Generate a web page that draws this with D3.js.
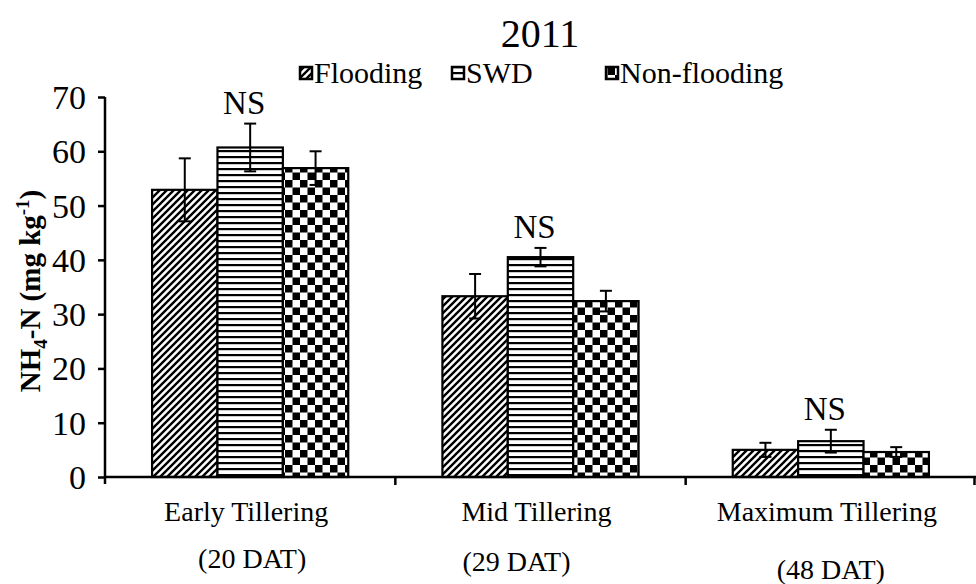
<!DOCTYPE html>
<html>
<head>
<meta charset="utf-8">
<script src="https://cdn.jsdelivr.net/npm/d3@7"></script>
<style>
  html, body { margin: 0; padding: 0; background: #fff; }
  svg text { font-family: "Liberation Serif", "Times New Roman", serif; fill: #000; }
</style>
</head>
<body>
<svg id="chart" width="976" height="584"></svg>
<script>
// NH4-N in soil at three tillering stages, 2011
const categories = ["Early Tillering", "Mid Tillering", "Maximum Tillering"];
const categoryDays = ["(20 DAT)", "(29 DAT)", "(48 DAT)"];
const seriesNames = ["Flooding", "SWD", "Non-flooding"];
const flooding = [52.9, 33.3, 5.0];
const swd = [60.7, 40.5, 6.6];
const nonFlooding = [56.9, 32.4, 4.6];
const floodingErr = [5.8, 4.1, 1.3];
const swdErr = [4.4, 1.7, 2.1];
const nonFloodingErr = [3.1, 1.9, 0.9];
const significance = ["NS", "NS", "NS"];
const yTicks = [0, 10, 20, 30, 40, 50, 60, 70];
const title = "2011";

const values = [flooding, swd, nonFlooding];
const errors = [floodingErr, swdErr, nonFloodingErr];
const patternIds = ["pat-diag", "pat-horiz", "pat-check"];

const svg = d3.select("#chart");
const defs = svg.append("defs");

// diagonal hatch
const pd = defs.append("pattern").attr("id", "pat-diag")
  .attr("patternUnits", "userSpaceOnUse").attr("width", 7).attr("height", 7);
pd.append("rect").attr("width", 7).attr("height", 7).attr("fill", "#fff");
pd.append("path").attr("d", "M-1,1 l2,-2 M0,7 l7,-7 M6,8 l2,-2")
  .attr("stroke", "#000").attr("stroke-width", 2.4);

// horizontal lines
const ph = defs.append("pattern").attr("id", "pat-horiz")
  .attr("patternUnits", "userSpaceOnUse").attr("width", 6).attr("height", 6);
ph.append("rect").attr("width", 6).attr("height", 6).attr("fill", "#fff");
ph.append("rect").attr("y", 0).attr("width", 6).attr("height", 2.2).attr("fill", "#000");

// checkerboard
const pc = defs.append("pattern").attr("id", "pat-check")
  .attr("patternUnits", "userSpaceOnUse").attr("width", 15).attr("height", 15);
pc.append("rect").attr("width", 15).attr("height", 15).attr("fill", "#fff");
pc.append("rect").attr("width", 7.5).attr("height", 7.5).attr("fill", "#000");
pc.append("rect").attr("x", 7.5).attr("y", 7.5).attr("width", 7.5).attr("height", 7.5).attr("fill", "#000");

const plot = { left: 105, right: 976, top: 97, bottom: 477 };

const x0 = d3.scaleBand().domain(categories).range([plot.left, plot.right]).padding(0);
const x1 = d3.scaleBand().domain(seriesNames).range([0, x0.bandwidth()])
  .paddingInner(0).paddingOuter(0.72);
const y = d3.scaleLinear().domain([0, 70]).range([plot.bottom, plot.top]);

// bars
seriesNames.forEach((s, si) => {
  svg.append("g").selectAll("rect")
    .data(categories)
    .join("rect")
    .attr("x", c => x0(c) + x1(s))
    .attr("y", (c, i) => y(values[si][i]))
    .attr("width", x1.bandwidth())
    .attr("height", (c, i) => y(0) - y(values[si][i]))
    .attr("fill", `url(#${patternIds[si]})`)
    .attr("stroke", "#000")
    .attr("stroke-width", 2.2);
});

// error bars
seriesNames.forEach((s, si) => {
  const g = svg.append("g").attr("stroke", "#000").attr("stroke-width", 2);
  categories.forEach((c, i) => {
    const cx = x0(c) + x1(s) + x1.bandwidth() / 2;
    const hi = y(values[si][i] + errors[si][i]);
    const lo = y(values[si][i] - errors[si][i]);
    g.append("line").attr("x1", cx).attr("x2", cx).attr("y1", hi).attr("y2", lo);
    g.append("line").attr("x1", cx - 6).attr("x2", cx + 6).attr("y1", hi).attr("y2", hi);
    g.append("line").attr("x1", cx - 6).attr("x2", cx + 6).attr("y1", lo).attr("y2", lo);
  });
});

// significance labels above the tallest error bar in each group
categories.forEach((c, i) => {
  const top = d3.max(values.map((v, si) => v[i] + errors[si][i]));
  svg.append("text")
    .attr("x", x0(c) + x1("SWD") + x1.bandwidth() / 2 - 6)
    .attr("y", y(top) - 10)
    .attr("text-anchor", "middle")
    .attr("font-size", 33)
    .text(significance[i]);
});

// y axis
const yAxis = d3.axisLeft(y).tickValues(yTicks).tickSize(7).tickPadding(12).tickSizeOuter(0);
const gy = svg.append("g").attr("transform", `translate(${plot.left},0)`).call(yAxis);
gy.select(".domain").attr("stroke", "#000").attr("stroke-width", 2.5)
  .attr("d", `M0,${plot.bottom + 7}V${plot.top}`);
gy.selectAll(".tick line").attr("stroke", "#000").attr("stroke-width", 2.5);
gy.selectAll(".tick text").attr("font-size", 34).attr("dy", "0.34em")
  .style("font-family", "'Liberation Serif', 'Times New Roman', serif").attr("fill", "#000");

// x axis with ticks at category boundaries
const gx = svg.append("g");
gx.append("line").attr("x1", plot.left).attr("x2", plot.right)
  .attr("y1", y(0)).attr("y2", y(0)).attr("stroke", "#000").attr("stroke-width", 2.5);
const bounds = categories.map(c => x0(c) + x0.bandwidth());
gx.selectAll("line.tk").data(bounds).join("line").attr("class", "tk")
  .attr("x1", d => Math.min(d, plot.right - 1.5)).attr("x2", d => Math.min(d, plot.right - 1.5))
  .attr("y1", y(0)).attr("y2", y(0) + 8)
  .attr("stroke", "#000").attr("stroke-width", 2.5);

// category labels (two lines each)
const dayShift = [{ dx: 2, dy: 0 }, { dx: -24, dy: 3 }, { dx: 0, dy: 11 }];
categories.forEach((c, i) => {
  const cx = x0(c) + x0.bandwidth() / 2;
  svg.append("text").attr("x", cx - 4).attr("y", 521)
    .attr("text-anchor", "middle").attr("font-size", 28).text(c);
  svg.append("text").attr("x", cx + dayShift[i].dx).attr("y", 568 + dayShift[i].dy)
    .attr("text-anchor", "middle").attr("font-size", 28).text(categoryDays[i]);
});

// y axis title
const yt = svg.append("text")
  .attr("transform", `translate(40,${(plot.top + plot.bottom) / 2 + 4}) rotate(-90)`)
  .attr("text-anchor", "middle").attr("font-size", 29).attr("font-weight", "bold");
yt.append("tspan").text("NH");
yt.append("tspan").attr("font-size", 19).attr("dy", 7).text("4");
yt.append("tspan").attr("dy", -7).text("-N (mg kg");
yt.append("tspan").attr("font-size", 19).attr("dy", -11).text("-1");
yt.append("tspan").attr("dy", 11).text(")");

// title
svg.append("text").attr("x", 540).attr("y", 47).attr("text-anchor", "middle")
  .attr("font-size", 40).text(title);

// legend
const legendX = [300, 452, 606];
const lg = svg.append("g");
seriesNames.forEach((s, si) => {
  lg.append("rect").attr("x", legendX[si]).attr("y", 67).attr("width", 12).attr("height", 12)
    .attr("fill", `url(#${patternIds[si]})`).attr("stroke", "#000").attr("stroke-width", 2.5);
  lg.append("text").attr("x", legendX[si] + 14).attr("y", 83)
    .attr("font-size", 30).text(s);
});
</script>
</body>
</html>
